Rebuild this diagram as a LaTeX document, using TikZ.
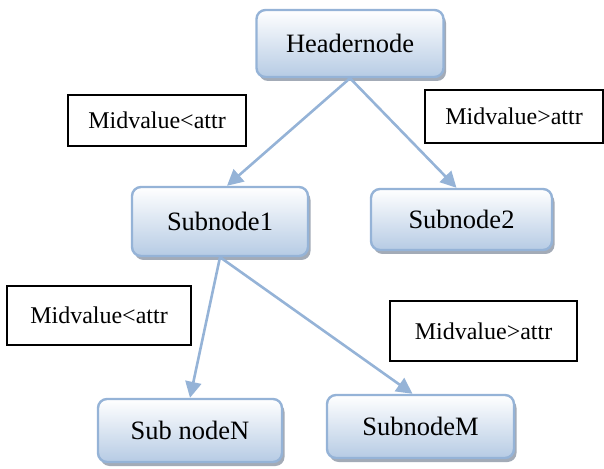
\documentclass[tikz,border=0pt]{standalone}
\usepackage{fontspec}
\setmainfont{Liberation Serif}
\usetikzlibrary{arrows.meta, positioning, shadows}
\definecolor{cedge}{RGB}{149, 179, 215}
\definecolor{cfill}{RGB}{182, 203, 228}
\definecolor{cshade}{RGB}{140, 150, 165}
\tikzset{
  treenode/.style={draw=cedge, line width=2.4pt, rounded corners=9pt, align=center,
              top color=white, bottom color=cfill,
              drop shadow={shadow xshift=2.5pt, shadow yshift=-4pt, fill=cshade, opacity=0.8},
              font=\fontsize{26.5}{30}\selectfont},
  cond/.style={draw=black, line width=1.6pt, fill=white, align=center,
              font=\fontsize{24}{28}\selectfont},
  arr/.style={-{Triangle[length=16pt, width=16pt]}, line width=2.6pt, draw=cedge},
}

\begin{document}
\begin{tikzpicture}[x=1pt, y=1pt]
\useasboundingbox (0,0) rectangle (604,468);

% ---------- tree nodes ----------
\node[treenode, minimum width=187pt, minimum height=67pt] (header) at (350,424.5) {Headernode};
\node[treenode, minimum width=176pt, minimum height=69pt] (sub1) at (220,246.5) {Subnode1};
\node[treenode, minimum width=181pt, minimum height=61pt] (sub2) at (461.5,248.5) {Subnode2};
\node[treenode, minimum width=184pt, minimum height=63pt] (subN) at (190,37.5) {Sub nodeN};
\node[treenode, minimum width=187pt, minimum height=63pt] (subM) at (420.5,41.5) {SubnodeM};

% ---------- condition labels ----------
\node[cond, minimum width=178pt, minimum height=51pt] (lessA) at (157,347.5) {Midvalue<attr};
\node[cond, minimum width=178pt, minimum height=53pt] (moreA) at (514,351.5) {Midvalue>attr};
\node[cond, minimum width=184pt, minimum height=59pt] (lessB) at (99,152.5) {Midvalue<attr};
\node[cond, minimum width=187pt, minimum height=60pt] (moreB) at (483.5,137) {Midvalue>attr};

% ---------- edges ----------
\draw[arr] (header.south) -- ([xshift=7pt]sub1.north);
\draw[arr] (header.south) -- ([xshift=-5pt]sub2.north);
\draw[arr] (sub1.south) -- (subN.north);
\draw[arr] (sub1.south) -- ([xshift=-8pt]subM.north);

\end{tikzpicture}
\end{document}
